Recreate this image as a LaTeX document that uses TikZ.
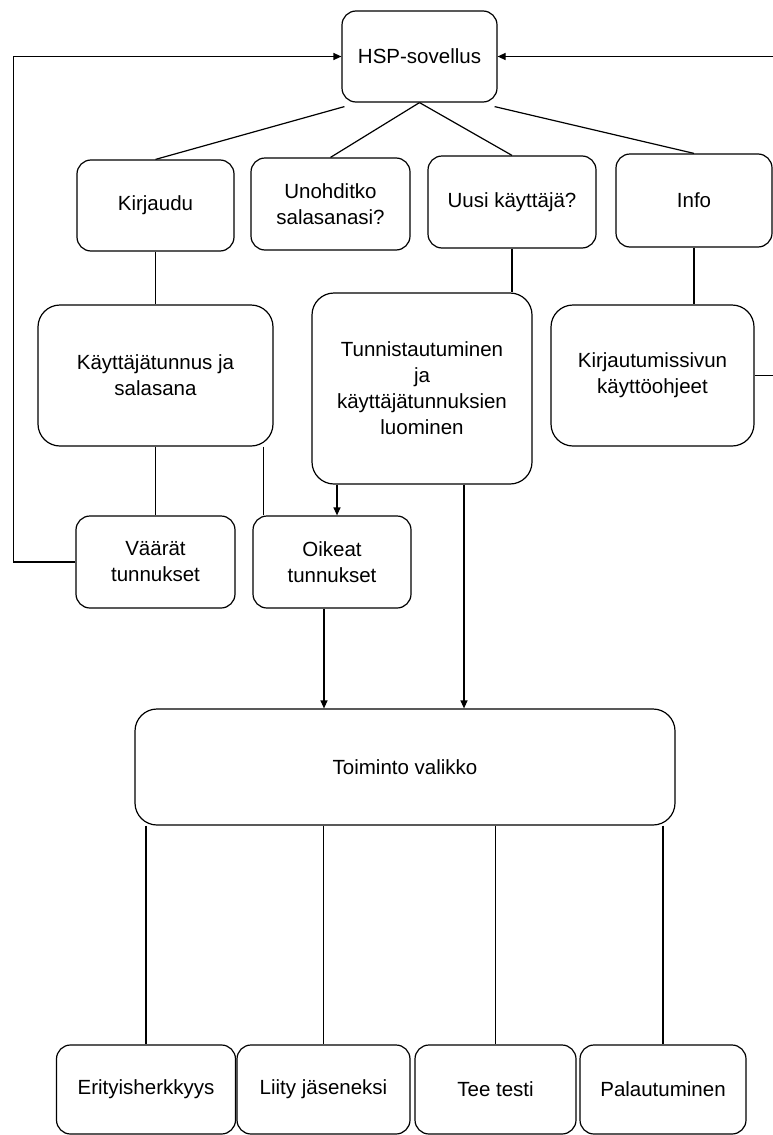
\documentclass[tikz,border=0pt]{standalone}
\usepackage{fontspec}
\setmainfont{Liberation Sans}
\usetikzlibrary{arrows.meta,calc}
\begin{document}
\begin{tikzpicture}[x=1pt,y=-1pt,
  box/.style={draw,line width=1.2pt,rounded corners=14pt,align=center,inner sep=0pt,
    font=\fontsize{20.5}{26}\selectfont},
  bigbox/.style={box,rounded corners=22pt},
  conn/.style={line width=1.2pt},
  arr/.style={line width=1.2pt,-{Triangle[length=8pt,width=7pt]}}]
\useasboundingbox (0,0) rectangle (773,1135);
% nodes
\node[box,minimum width=155pt,minimum height=91pt] (hsp) at (419.5,56.5) {HSP-sovellus};
\node[box,minimum width=157pt,minimum height=91pt] (kirj) at (155.5,205.5) {Kirjaudu};
\node[box,minimum width=159pt,minimum height=92pt] (unoh) at (330.5,204) {Unohditko\\salasanasi?};
\node[box,minimum width=168pt,minimum height=92pt] (uusi) at (512,202) {Uusi käyttäjä?};
\node[box,minimum width=156pt,minimum height=93pt] (info) at (694,200.5) {Info};
\node[bigbox,minimum width=235pt,minimum height=141pt] (kayt) at (155.5,375.5) {Käyttäjätunnus ja\\salasana};
\node[bigbox,minimum width=220pt,minimum height=191pt] (tunn) at (422,388.5) {Tunnistautuminen\\ja\\käyttäjätunnuksien\\luominen};
\node[bigbox,minimum width=203pt,minimum height=141pt] (kirjs) at (652.5,375.5) {Kirjautumissivun\\käyttöohjeet};
\node[box,minimum width=159pt,minimum height=92pt] (vaar) at (155.5,562) {Väärät\\tunnukset};
\node[box,minimum width=158pt,minimum height=92pt] (oik) at (332,562) {Oikeat\\tunnukset};
\node[bigbox,minimum width=540pt,minimum height=116pt] (toim) at (405,767) {Toiminto valikko};
\node[box,minimum width=179pt,minimum height=89pt] (eri) at (146,1089.5) {Erityisherkkyys};
\node[box,minimum width=173pt,minimum height=89pt] (liity) at (323.5,1089.5) {Liity jäseneksi};
\node[box,minimum width=161pt,minimum height=89pt] (tee) at (495.5,1089.5) {Tee testi};
\node[box,minimum width=166pt,minimum height=89pt] (pal) at (663,1089.5) {Palautuminen};
\coordinate (rt) at (790,56.5);
% connectors
\draw[conn] ([xshift=3pt,yshift=-4pt]hsp.south west) -- (kirj.north);
\draw[conn] (hsp.south) -- (unoh.north);
\draw[conn] (hsp.south) -- (uusi.north);
\draw[conn] ([xshift=-3pt,yshift=-4pt]hsp.south east) -- (info.north);
\draw[conn] (kirj.south) -- (kayt.north);
\draw[conn] (uusi.south) -- (uusi.south |- tunn.north);
\draw[conn] (info.south) -- (info.south |- kirjs.north);
\draw[arr] (kirjs.east) -| (rt) -- (hsp.east);
\draw[conn] (kayt.south) -- (vaar.north);
\draw[conn] ([xshift=-10pt]kayt.south east) -- ([xshift=-10pt]kayt.south east |- oik.north);
\draw[arr] ([xshift=5pt]oik.north |- tunn.south) -- ([xshift=5pt]oik.north);
\draw[arr] (vaar.west) -- ++(-62,0) |- (hsp.west);
\draw[arr] ([xshift=-8pt]oik.south) -- ([xshift=-8pt]oik.south |- toim.north);
\draw[arr] ([xshift=42pt]tunn.south) -- ([xshift=42pt]tunn.south |- toim.north);
\draw[conn] (toim.south -| eri.north) -- (eri.north);
\draw[conn] (toim.south -| liity.north) -- (liity.north);
\draw[conn] (toim.south -| tee.north) -- (tee.north);
\draw[conn] (toim.south -| pal.north) -- (pal.north);
\end{tikzpicture}
\end{document}
